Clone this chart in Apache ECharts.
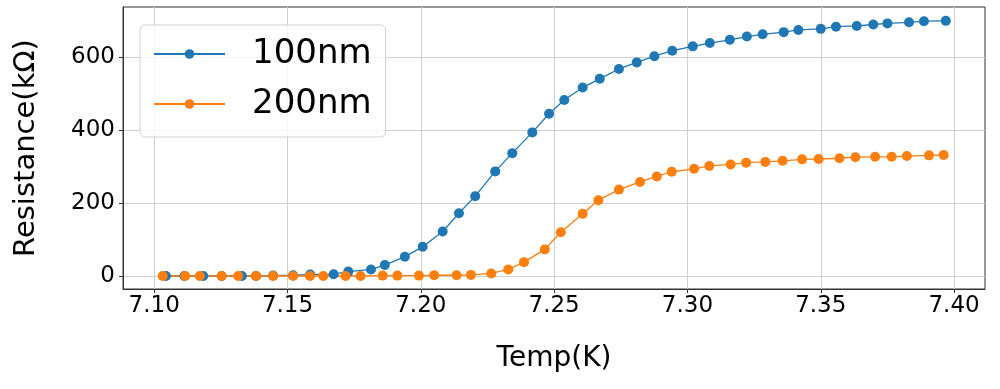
<!DOCTYPE html>
<html>
<head>
<meta charset="utf-8">
<script src="https://cdn.jsdelivr.net/npm/echarts@6/dist/echarts.min.js"></script>
<style>html,body{margin:0;padding:0;background:#fff}#c{width:1000px;height:389px}</style>
</head>
<body>
<div id="c"></div>
<script>
const xTicks = [7.10, 7.15, 7.20, 7.25, 7.30, 7.35, 7.40];
const yTicks = [0, 200, 400, 600];

const temp100 = [7.1044,7.1113,7.1184,7.1253,7.1329,7.1382,7.1446,7.1521,7.1585,7.1673,7.1728,7.1813,7.1865,7.1940,7.2007,7.2082,7.2143,7.2204,7.2279,7.2343,7.2418,7.2481,7.2538,7.2607,7.2671,7.2743,7.2810,7.2876,7.2943,7.3020,7.3084,7.3159,7.3223,7.3282,7.3361,7.3416,7.3500,7.3557,7.3635,7.3697,7.3750,7.3831,7.3887,7.3969];
const res100 = [0,0,0,0,0,0,1,2,4,5,12,18,30,53,80,122,172,219,287,337,394,445,483,517,541,568,586,603,618,630,639,648,657,663,669,675,678,684,686,690,693,696,699,700];

const temp200 = [7.1032,7.1116,7.1171,7.1253,7.1315,7.1382,7.1446,7.1521,7.1584,7.1634,7.1718,7.1774,7.1857,7.1912,7.1993,7.2050,7.2134,7.2188,7.2264,7.2328,7.2387,7.2465,7.2525,7.2607,7.2666,7.2743,7.2822,7.2885,7.2941,7.3025,7.3082,7.3162,7.3220,7.3292,7.3357,7.3430,7.3492,7.3570,7.3630,7.3704,7.3766,7.3823,7.3906,7.3961];
const res200 = [0,0,0,0,0,0,0,0,0,0,0,0,1,1,1,2,2,3,7,18,38,73,120,171,208,237,258,273,286,294,302,306,311,313,316,320,321,323,326,327,327,329,331,332];

const zip = (a, b) => a.map((v, i) => [v, b[i]]);
const FONT = 'DejaVu Sans';

const chart = echarts.init(document.getElementById('c'), null, {renderer: 'canvas'});
chart.setOption({
  animation: false,
  backgroundColor: '#ffffff',
  grid: {left: 123, right: 15, top: 7, bottom: 100, show: true, borderColor: '#333', borderWidth: 1, backgroundColor: 'transparent'},
  legend: {
    show: true,
    orient: 'vertical',
    left: 140, top: 25,
    padding: [12, 14, 16, 13],
    itemWidth: 71, itemHeight: 12, itemGap: 16,
    backgroundColor: 'rgba(255,255,255,0.8)',
    borderColor: '#d0d0d0', borderWidth: 1, borderRadius: 5,
    textStyle: {fontFamily: FONT, fontSize: 34, color: '#000', lineHeight: 34, padding: [0, 0, 0, 22]},
    data: ['100nm', '200nm']
  },
  xAxis: {
    type: 'value', min: 7.0883, max: 7.4116,
    name: 'Temp(K)', nameLocation: 'middle', nameGap: 56,
    nameTextStyle: {fontFamily: FONT, fontSize: 28, color: '#000'},
    axisLine: {show: true, onZero: false, lineStyle: {color: '#333'}},
    axisTick: {show: true, length: 4, lineStyle: {color: '#333'}, customValues: xTicks},
    axisLabel: {fontFamily: FONT, fontSize: 23, color: '#000', margin: 6, customValues: xTicks, formatter: v => v.toFixed(2)},
    splitLine: {show: true, lineStyle: {color: '#cfcfcf', width: 1}}
  },
  yAxis: {
    type: 'value', min: -35.7, max: 738,
    name: 'Resistance(kΩ)', nameLocation: 'middle', nameGap: 82, nameRotate: 90,
    nameTextStyle: {fontFamily: FONT, fontSize: 29, color: '#000'},
    axisLine: {show: true, onZero: false, lineStyle: {color: '#333'}},
    axisTick: {show: true, length: 4, lineStyle: {color: '#333'}, customValues: yTicks},
    axisLabel: {fontFamily: FONT, fontSize: 23, color: '#000', margin: 8, customValues: yTicks},
    splitLine: {show: true, lineStyle: {color: '#cfcfcf', width: 1}}
  },
  series: [
    {name: '100nm', type: 'line', data: zip(temp100, res100), symbol: 'circle', symbolSize: 10, showSymbol: true,
     itemStyle: {color: '#1f77b4'}, lineStyle: {color: '#1f77b4', width: 1.3}},
    {name: '200nm', type: 'line', data: zip(temp200, res200), symbol: 'circle', symbolSize: 10, showSymbol: true,
     itemStyle: {color: '#ff7f0e'}, lineStyle: {color: '#ff7f0e', width: 1.3}}
  ]
});
</script>
</body>
</html>
